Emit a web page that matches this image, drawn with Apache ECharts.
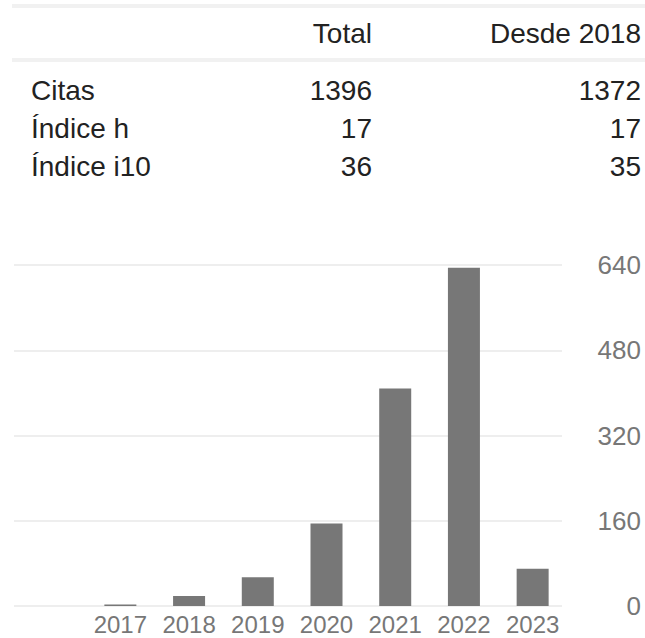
<!DOCTYPE html>
<html>
<head>
<meta charset="utf-8">
<script src="https://cdn.jsdelivr.net/npm/echarts@6/dist/echarts.min.js"></script>
<style>
html,body{margin:0;padding:0;background:#fff;}
#chart{width:645px;height:638px;}
</style>
</head>
<body>
<div id="chart"></div>
<script>
// ---- data ----
var years = ['2017', '2018', '2019', '2020', '2021', '2022', '2023'];
var citations = [3, 19, 54, 155, 408, 635, 70];
var yTicks = [0, 160, 320, 480, 640];
var tableHeader = ['', 'Total', 'Desde 2018'];
var rowLabels = ['Citas', 'Índice h', 'Índice i10'];
var totalCol = ['1396', '17', '36'];
var sinceCol = ['1372', '17', '35'];

var FONT = 'Arial, "Liberation Sans", sans-serif';
var chart = echarts.init(document.getElementById('chart'), null, {renderer: 'svg'});

var graphics = [];
// table lines
graphics.push({type: 'rect', shape: {x: 12, y: 4, width: 633, height: 4}, style: {fill: '#f1f1f1'}, silent: true});
graphics.push({type: 'rect', shape: {x: 12, y: 58, width: 633, height: 4}, style: {fill: '#f1f1f1'}, silent: true});
// header
var headerY = 19;
graphics.push({type: 'text', x: 372, y: headerY, style: {text: tableHeader[1], font: '28px ' + FONT, fill: '#222', align: 'right', verticalAlign: 'top'}});
graphics.push({type: 'text', x: 641, y: headerY, style: {text: tableHeader[2], font: '28px ' + FONT, fill: '#222', align: 'right', verticalAlign: 'top'}});
var rowY = [76, 114, 152];
for (var i = 0; i < rowLabels.length; i++) {
  graphics.push({type: 'text', x: 31, y: rowY[i], style: {text: rowLabels[i], font: '28px ' + FONT, fill: '#222', align: 'left', verticalAlign: 'top'}});
  graphics.push({type: 'text', x: 372, y: rowY[i], style: {text: totalCol[i], font: '28px ' + FONT, fill: '#222', align: 'right', verticalAlign: 'top'}});
  graphics.push({type: 'text', x: 641, y: rowY[i], style: {text: sinceCol[i], font: '28px ' + FONT, fill: '#222', align: 'right', verticalAlign: 'top'}});
}

var yMin = yTicks[0], yMax = yTicks[yTicks.length - 1], yInt = yTicks[1] - yTicks[0];

chart.setOption({
  animation: false,
  backgroundColor: '#fff',
  graphic: graphics,
  grid: [
    {left: 86, right: 78, top: 265, bottom: 32, containLabel: false},
    {left: 14, right: 83, top: 265, bottom: 32, containLabel: false}
  ],
  xAxis: [
    {
      type: 'category', gridIndex: 0, data: years,
      axisLine: {show: false}, axisTick: {show: false},
      axisLabel: {color: '#777', fontSize: 24, fontFamily: FONT, margin: 6, interval: 0}
    },
    {
      type: 'category', gridIndex: 1, data: [''],
      axisLine: {show: false}, axisTick: {show: false}, axisLabel: {show: false}
    }
  ],
  yAxis: [
    {
      type: 'value', gridIndex: 0, min: yMin, max: yMax, interval: yInt,
      axisLine: {show: false}, axisTick: {show: false}, axisLabel: {show: false}, splitLine: {show: false}
    },
    {
      type: 'value', gridIndex: 1, position: 'right', min: yMin, max: yMax, interval: yInt,
      axisLine: {show: false}, axisTick: {show: false},
      axisLabel: {color: '#777', fontSize: 26, fontFamily: FONT, align: 'right', margin: 79, padding: [4, 0, 0, 0]},
      splitLine: {show: true, lineStyle: {color: '#eeeeee', width: 2}}
    }
  ],
  series: [
    {
      type: 'bar', xAxisIndex: 0, yAxisIndex: 0, data: citations,
      barWidth: 32, itemStyle: {color: '#777777'}, silent: true
    }
  ]
});
</script>
</body>
</html>
